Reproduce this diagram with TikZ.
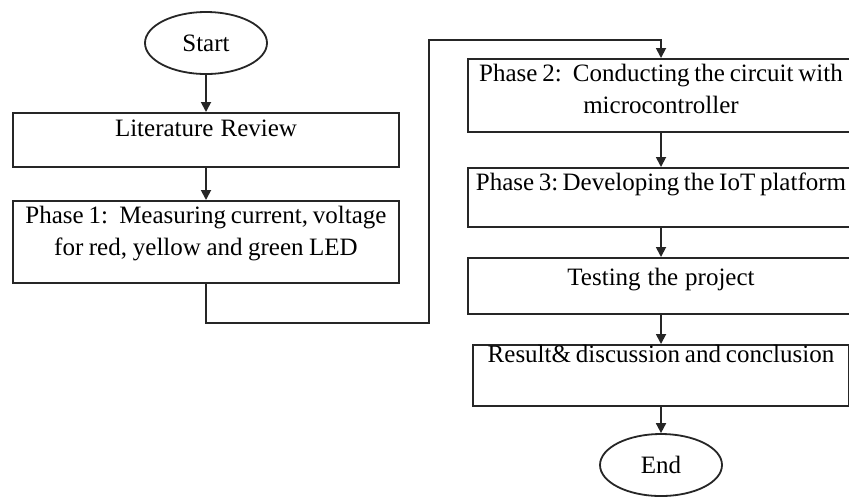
\documentclass[tikz,border=0pt]{standalone}
\usepackage{fontspec}
\setmainfont{Liberation Serif}
\usetikzlibrary{positioning}
\usetikzlibrary{shapes, arrows.meta, calc}
\newcommand{\flowfont}{\fontsize{12.5}{16}\selectfont}
\newcommand{\gap}{\hspace{0.45em}}
\tikzstyle{box} = [rectangle, draw=black!85, line width=0.9pt, inner xsep=-5pt, inner ysep=0pt, text width=203pt, align=center, font=\flowfont, execute at begin node={\spaceskip=0.17em plus 0.05em\relax\xspaceskip=0.17em\relax}]
\tikzstyle{term} = [ellipse, draw=black!85, line width=0.9pt, minimum width=61pt, minimum height=31pt, inner sep=0pt, font=\flowfont]
\tikzstyle{arrow} = [line width=0.9pt, draw=black!85, -{Triangle[length=5pt,width=5pt]}]
\begin{document}
\begin{tikzpicture}[x=0.5pt,y=-0.5pt]
\clip (0,0) rectangle (849,500);
\fill[white] (0,0) rectangle (849,500);
% left column
\node[term] (start) at (206,43) {Start};
\node[box, anchor=north, text height=12pt, text depth=15pt] (lit) at (206,112) {Literature Review};
\node[box, anchor=north, text height=11.5pt, text depth=29.5pt] (ph1) at (206,200) {Phase 1:\gap Measuring current, voltage\\for red, yellow and green LED};
% right column
\node[box, anchor=north, text height=11.5pt, text depth=25pt] (ph2) at (661,58) {Phase 2:\gap Conducting the circuit with\\microcontroller};
\node[box, anchor=north, text height=11.5pt, text depth=18pt] (ph3) at (661,167) {Phase 3: Developing the IoT platform};
\node[box, anchor=north, text height=14pt, text depth=14pt] (test) at (661,257) {Testing the project};
\node[box, anchor=north, text width=198pt, text height=9pt, text depth=21.5pt] (res) at (661,344) {Result\& discussion and conclusion};
\node[term] (end) at (661,465) {End};
% connectors
\coordinate (c1) at (429,323);
\coordinate (c2) at (429,40);
\draw[arrow] (start) -- (lit);
\draw[arrow] (lit) -- (ph1);
\draw[arrow] (ph1.south) |- (c1) -- (c2) -| (ph2.north);
\draw[arrow] (ph2) -- (ph3);
\draw[arrow] (ph3) -- (test);
\draw[arrow] (test) -- (res);
\draw[arrow] (res) -- (end);
\end{tikzpicture}
\end{document}
